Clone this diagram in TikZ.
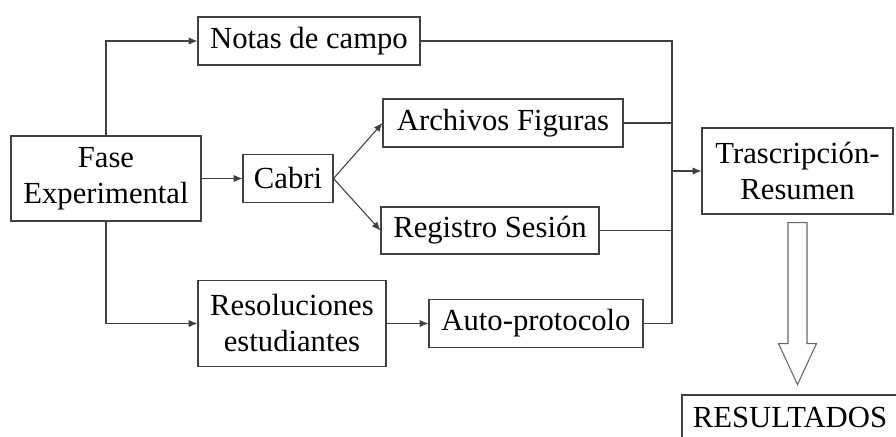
\documentclass[tikz,border=0pt]{standalone}
\usepackage{fontspec}
\setmainfont{Liberation Serif}
\usepackage{tikz}
\usetikzlibrary{positioning, arrows.meta, calc}
\tikzstyle{box} = [
    rectangle, draw=black!75, line width=0.8pt,
    inner sep=0pt, align=center,
    font=\fontsize{23}{27}\selectfont
]
\tikzstyle{link} = [draw=black!75, line width=0.8pt]
\tikzstyle{arr} = [link, -{Latex[length=2.3mm, width=1.9mm]}]
\tikzstyle{hollow} = [draw=black!60, line width=0.8pt, fill=white]

\begin{document}
\begin{tikzpicture}[x=0.75pt, y=-0.75pt]
        \useasboundingbox (0,0) rectangle (896,436);
        \clip (0,0) rectangle (896,436);

        % Nodes (sizes in pt)
        \node[box, minimum width=142.5pt, minimum height=63.75pt] (fase) at (106,178.5) {Fase\\Experimental};
        \node[box, minimum width=166.5pt, minimum height=36pt] (notas) at (309,41) {Notas de campo};
        \node[box, minimum width=67.5pt, minimum height=36pt] (cabri) at (288,178.5) {Cabri};
        \node[box, minimum width=180pt, minimum height=36pt] (archivos) at (503,123) {Archivos Figuras};
        \node[box, minimum width=163.5pt, minimum height=35.25pt] (registro) at (490,230.5) {Registro Sesión};
        \node[box, minimum width=141pt, minimum height=64.5pt] (resol) at (292,323.5) {Resoluciones\\estudiantes};
        \node[box, minimum width=160.5pt, minimum height=36pt] (auto) at (536,323.5) {Auto-protocolo};
        \node[box, minimum width=143.25pt, minimum height=64.5pt] (trasc) at (797.5,171) {Trascripción-\\Resumen};
        \node[box, minimum width=162pt, minimum height=33pt] (result) at (790,417) {RESULTADOS};

        % Fase Experimental outputs
        \draw[arr] (fase.north) |- (notas.west);
        \draw[arr] (fase.east) -- (cabri.west);
        \draw[arr] (fase.south) |- (resol.west);

        % Cabri outputs
        \draw[arr] (cabri.east) -- (archivos.west);
        \draw[arr] (cabri.east) -- (registro.west);
        \draw[arr] (resol.east) -- (auto.west);

        % collecting line
        \coordinate (bus) at (672,171);
        \draw[link] (notas.east) -| (bus);
        \draw[link] (archivos.east) -| (bus);
        \draw[link] (registro.east) -| (bus);
        \draw[link] (auto.east) -| (bus);
        \draw[arr] (bus) -- (trasc.west);

        % big hollow arrow
        \draw[hollow] ($(trasc.south)+(-9.5,8)$) -- ++(0,121) -- ++(-9.5,0)
            -- ($(trasc.south)+(0,170)$) -- ++(19,-41) -- ++(-9.5,0) -- ++(0,-121) -- cycle;

    \end{tikzpicture}
\end{document}
